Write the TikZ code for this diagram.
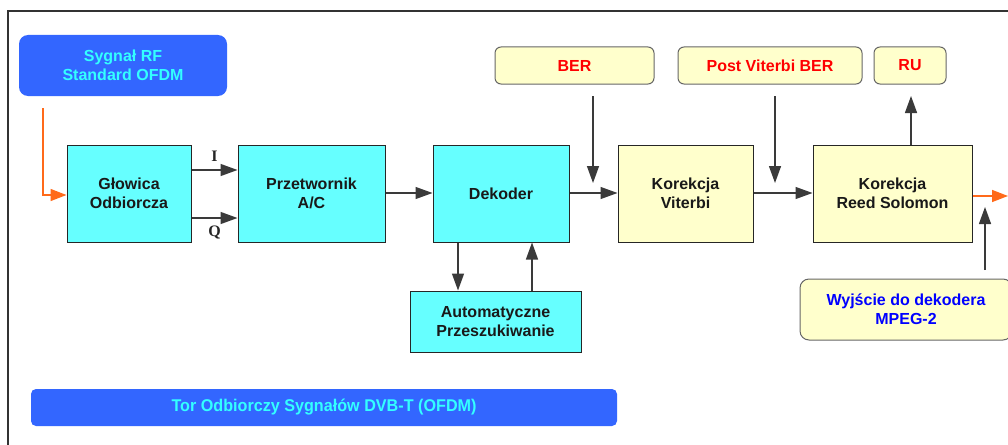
\documentclass[tikz,border=0pt]{standalone}
\usepackage{fontspec}
\setmainfont{Liberation Sans}
\newfontfamily\serifb{Liberation Serif}
\usetikzlibrary{arrows.meta}
\definecolor{cyanbox}{HTML}{66FFFF}
\definecolor{yelbox}{HTML}{FFFFCC}
\definecolor{bluebox}{HTML}{3366FF}
\definecolor{cyantext}{HTML}{33FFFF}
\definecolor{orangeln}{HTML}{FF6A1A}
\definecolor{arrgray}{HTML}{3A3A3A}
\tikzset{
  blk/.style={draw=black!85, line width=1pt, align=center, inner sep=0pt,
    font=\fontsize{16}{19}\selectfont\bfseries, text=black!90},
  cbox/.style={blk, fill=cyanbox},
  ybox/.style={blk, fill=yelbox},
  lab/.style={draw=black!60, line width=1pt, fill=yelbox, rounded corners=6pt,
    align=center, inner sep=0pt, font=\fontsize{16}{19}\selectfont\bfseries},
  bluelab/.style={fill=bluebox, rounded corners=9pt, align=center, inner sep=0pt,
    text=cyantext, font=\fontsize{16}{19.5}\selectfont\bfseries},
  conn/.style={draw=arrgray, line width=1.4pt, -{Triangle[length=17pt,width=12pt]}},
  oconn/.style={draw=orangeln, line width=1.4pt, -{Triangle[length=16pt,width=12pt]}},
  iq/.style={font=\serifb\fontsize{16}{18}\selectfont\bfseries, text=black!85},
}
\begin{document}
\begin{tikzpicture}[x=1pt,y=-1pt]
\useasboundingbox (0,0) rectangle (1008,444);
% frame
\draw[black!80, line width=1.3pt] (1012,11) -- (8,11) -- (8,448);
% top labels
\node[bluelab, minimum width=208pt, minimum height=61pt] (rf) at (123,65.5) {Sygnał RF\\Standard OFDM};
\node[lab, minimum width=159pt, minimum height=37pt, text=red] (ber) at (574.5,65.5) {BER};
\node[lab, minimum width=184pt, minimum height=37pt, text=red] (pvber) at (770,65.5) {Post Viterbi BER};
\node[lab, minimum width=72pt, minimum height=37pt, text=red] (ru) at (910,65.5) {RU};
% main chain
\node[cbox, minimum width=124pt, minimum height=97pt] (glow) at (129,193.5) {Głowica\\Odbiorcza};
\node[cbox, minimum width=147pt, minimum height=97pt] (adc) at (311.5,193.5) {Przetwornik\\A/C};
\node[cbox, minimum width=136pt, minimum height=97pt] (dek) at (501,193.5) {Dekoder};
\node[ybox, minimum width=135pt, minimum height=97pt] (vit) at (685.5,193.5) {Korekcja\\Viterbi};
\node[ybox, minimum width=159pt, minimum height=97pt] (rs) at (892.5,193.5) {Korekcja\\Reed Solomon};
\node[cbox, minimum width=171pt, minimum height=61pt] (auto) at (495.5,321.5) {Automatyczne\\Przeszukiwanie};
\node[lab, minimum width=212pt, minimum height=61pt, text=blue, rounded corners=9pt] (wy) at (906,309.5) {Wyjście do dekodera\\MPEG-2};
\node[bluelab, minimum width=586pt, minimum height=37pt, rounded corners=5pt] (tor) at (324,407.5)
  {\resizebox{305pt}{\height}{\fontsize{17}{20}\selectfont\bfseries Tor Odbiorczy Sygnałów DVB-T (OFDM)}};
% coordinates for free ends
\coordinate (rfs) at (43,108);
\coordinate (bers) at (593,96);
\coordinate (pvs) at (775,96);
\coordinate (rue) at (911,96);
\coordinate (oute) at (1008,196);
\coordinate (ins) at (985,270);
\coordinate (ine) at (985,207);
\coordinate (bere) at (593,183);
\coordinate (pve) at (775,183);
% connectors
\draw[oconn] (rfs) |- (glow.west |- 0,195);
\draw[conn] (glow.east |- 0,170) -- node[iq, above=4pt] {I} (adc.west |- 0,170);
\draw[conn] (glow.east |- 0,218) -- node[iq, below=4pt] {Q} (adc.west |- 0,218);
\draw[conn, line width=1.2pt] (adc.east |- 0,193) -- (dek.west |- 0,193);
\draw[conn, line width=1.2pt] (dek.east |- 0,193) -- (vit.west |- 0,193);
\draw[conn, line width=1.2pt] (vit.east |- 0,193) -- (rs.west |- 0,193);
\draw[conn] (bers) -- (bere);
\draw[conn] (pvs) -- (pve);
\draw[conn] (rs.north -| rue) -- (rue);
\draw[oconn] (rs.east |- 0,196) -- (oute);
\draw[conn] (ins) -- (ine);
\draw[conn] (dek.south -| 458,0) -- (auto.north -| 458,0);
\draw[conn] (auto.north -| 532,0) -- (dek.south -| 532,0);
\end{tikzpicture}
\end{document}
